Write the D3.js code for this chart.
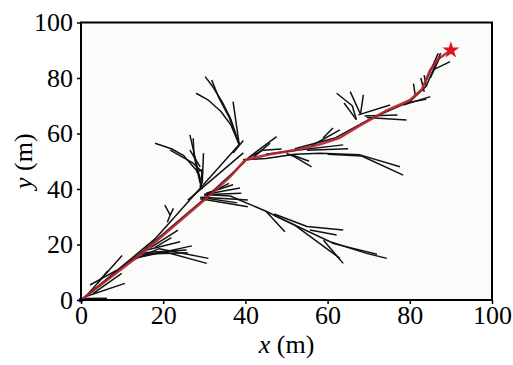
<!DOCTYPE html>
<html>
<head>
<meta charset="utf-8">
<script src="https://cdn.jsdelivr.net/npm/d3@7"></script>
<style>
  body { margin: 0; background: #fff; }
  text { font-family: "Liberation Serif", "Times New Roman", serif; }
</style>
</head>
<body>
<script>
// tick values
let xTicks = [0, 20, 40, 60, 80, 100];
let yTicks = [0, 20, 40, 60, 80, 100];

// explored tree edges (polylines, metres)
let treeEdges = [
  // trunk from the start
  [[0, 0], [15, 17.5], [30, 36.5], [40, 50]],
  [[0.5, 0.5], [18, 22], [38.5, 56]],
  [[26, 36], [39.5, 53]],
  [[1, 1], [10, 16]],
  [[4, 6], [6.5, 10.5]],
  [[1, 1.2], [10.7, 6]],
  [[3, 2.4], [9.9, 9.6]],
  [[2.2, 5.4], [8.7, 10.8]],
  [[0.5, 0.5], [6.3, 0.6]],
  // fan near (20, 18)
  [[12, 14], [19, 18.5], [31, 15]],
  [[14, 15.5], [20, 17.5], [30.6, 13.2]],
  [[15, 17], [25.7, 18]],
  [[16, 18], [24.1, 21]],
  [[17, 19], [23.6, 25.2]],
  [[13, 15], [27, 19.5]],
  [[18, 19], [22, 22.5]],
  [[14, 16.5], [26, 17]],
  // small V
  [[20.4, 34.2], [21.7, 30.6], [22.5, 33]],
  [[21, 28], [21.7, 30.6]],
  // upper left branch
  [[29.5, 40], [28.5, 46], [25, 52], [22, 54.5], [18, 56.5]],
  [[29.5, 40], [27.5, 53], [26.5, 59.5]],
  [[29, 42], [27.5, 52], [27.3, 58.3]],
  [[29.5, 42], [29.8, 52.9]],
  [[28, 46], [29.5, 47], [29, 40.5]],
  [[21.7, 54], [27.3, 49.3], [29.7, 45.8]],
  [[26.5, 54], [29, 48]],
  // top fan
  [[38.5, 56], [36.5, 63], [34, 68], [31, 72], [28, 74.5]],
  [[38.5, 56], [36.5, 65], [34.5, 71], [32, 77], [30.2, 80.5]],
  [[38.5, 56], [36, 66], [33.5, 73], [31.8, 79.3]],
  [[38.5, 56], [37, 71.5]],
  [[37, 53], [39.5, 57.5]],
  // central fan near (30, 38)
  [[29, 36.5], [40.6, 33.6]],
  [[29.5, 37], [40.6, 36]],
  [[30, 38], [38.7, 40.4]],
  [[30, 37.5], [36, 42]],
  [[31, 38], [39, 38.5]],
  [[30.5, 38.5], [37, 41.5]],
  [[29, 37], [38, 35]],
  // long lower-right branch
  [[30, 38], [36.3, 37.5], [45, 32], [52, 27], [63, 15]],
  [[45, 32], [49.6, 24.6]],
  [[47, 31], [55, 26.5], [63.8, 25.2]],
  [[55.7, 25.2], [62.2, 23.4]],
  [[47, 30.5], [60.6, 21], [69.5, 16.8], [74.4, 15]],
  [[59, 21.5], [63.8, 13.2]],
  [[61, 20.5], [72, 16.5]],
  // right branch near y = 50
  [[39.4, 50.5], [45, 51], [52, 52.5], [58.2, 52.9], [67.9, 52.3], [77.6, 48]],
  [[60, 52.5], [68.3, 51.9], [78.4, 45]],
  [[45, 52.5], [52.5, 54], [63.8, 55.9]],
  [[50, 52.8], [52, 51.6], [56.1, 48]],
  [[51, 52.5], [55.5, 50]],
  [[40.5, 51], [47.6, 58.9]],
  [[41, 51.5], [44.3, 54], [48.8, 54.4]],
  [[42, 51.5], [46, 56.5]],
  [[56, 55.5], [63, 61.3]],
  [[55, 54], [65, 54.5]],
  // along the goal path
  [[52, 54.5], [62, 58.5], [70, 65], [80, 71.5], [84, 77], [86, 84], [87.5, 89]],
  [[58.9, 58.4], [61.3, 62]],
  [[67, 65], [66, 70], [62.2, 74.5]],
  [[67.9, 67.3], [65.5, 75.1]],
  [[68, 67], [68.7, 73.9]],
  [[67, 65], [64, 71]],
  [[67.5, 66.7], [75.2, 70.3]],
  [[69.5, 65.8], [79.2, 64.9]],
  [[69, 66.3], [77, 66.7]],
  [[78.4, 70.3], [85, 73.3]],
  [[79, 71], [84, 72.3]],
  [[80.9, 78], [81.3, 73.9]],
  [[82.7, 80], [83.5, 75]],
  [[83.5, 81], [84, 77]],
  [[86.9, 88.9], [83.7, 78.1]],
  [[87.5, 88], [85, 80]],
  [[89.8, 85.9], [85.7, 82.9]]
];

// final path to the goal
let pathPoints = [[0, 0], [15, 17], [30, 36], [36, 44], [40, 50.5], [46, 52.5], [52, 54],
  [58, 56], [63, 58.5], [68, 63], [74, 68], [80, 72], [83, 76], [85, 83], [87, 87], [90, 90]];
let start = [0, 0];
let goal = [90, 90];

let margin = { top: 22.5, right: 21, bottom: 65, left: 81 },
  width = 513 - margin.left - margin.right,
  height = 365 - margin.top - margin.bottom;

let svg = d3.select("body").append("svg")
  .attr("width", width + margin.left + margin.right)
  .attr("height", height + margin.top + margin.bottom)
  .append("g")
  .attr("transform", "translate(" + margin.left + "," + margin.top + ")");

let x = d3.scaleLinear().domain([0, 100]).range([0, width]);
let y = d3.scaleLinear().domain([0, 100]).range([height, 0]);

svg.append("rect")
  .attr("width", width)
  .attr("height", height)
  .attr("fill", "#fbfbfa");

let l = d3.line()
  .x(function (d) { return x(d[0]) })
  .y(function (d) { return y(d[1]) });

svg.append("g")
  .selectAll("path")
  .data(treeEdges)
  .join("path")
  .attr("d", l)
  .attr("fill", "none")
  .attr("stroke", "#111")
  .attr("stroke-width", 1.5)
  .attr("stroke-linejoin", "round");

svg.append("path")
  .datum(pathPoints)
  .attr("d", l)
  .attr("fill", "none")
  .attr("stroke", "#b0222d")
  .attr("stroke-opacity", 0.9)
  .attr("stroke-width", 2.6)
  .attr("stroke-linejoin", "round");

svg.append("circle")
  .attr("cx", x(start[0]))
  .attr("cy", y(start[1]))
  .attr("r", 2.5)
  .attr("fill", "#2a2aa0");

svg.append("path")
  .attr("d", d3.symbol(d3.symbolStar, 90)())
  .attr("transform", "translate(" + x(goal[0]) + "," + y(goal[1]) + ")")
  .attr("fill", "#e0141c");

// axes
let x_axis = d3.axisBottom(x).tickValues(xTicks).tickSize(4).tickPadding(2);
let y_axis = d3.axisLeft(y).tickValues(yTicks).tickSize(4).tickPadding(4);

let x_node = svg.append("g")
  .attr("transform", "translate(0," + height + ")")
  .call(x_axis);
let y_node = svg.append("g").call(y_axis);

[x_node, y_node].forEach(function (n) {
  n.select(".domain").remove();
  n.selectAll("line").attr("stroke", "#000").attr("stroke-width", 1.5);
  n.selectAll("text")
    .attr("fill", "#000")
    .style("font-size", "26px")
    .style("font-family", "'Liberation Serif', serif");
});

svg.append("rect")
  .attr("width", width)
  .attr("height", height)
  .attr("fill", "none")
  .attr("stroke", "#000")
  .attr("stroke-width", 2);

// axis titles
let xt = svg.append("text")
  .attr("x", width / 2)
  .attr("y", height + 53)
  .attr("text-anchor", "middle")
  .style("font-size", "26px");
xt.append("tspan").style("font-style", "italic").text("x");
xt.append("tspan").text(" (m)");

let yt = svg.append("text")
  .attr("transform", "translate(-49," + height / 2 + ") rotate(-90)")
  .attr("text-anchor", "middle")
  .style("font-size", "26px");
yt.append("tspan").style("font-style", "italic").text("y");
yt.append("tspan").text(" (m)");
</script>
</body>
</html>
